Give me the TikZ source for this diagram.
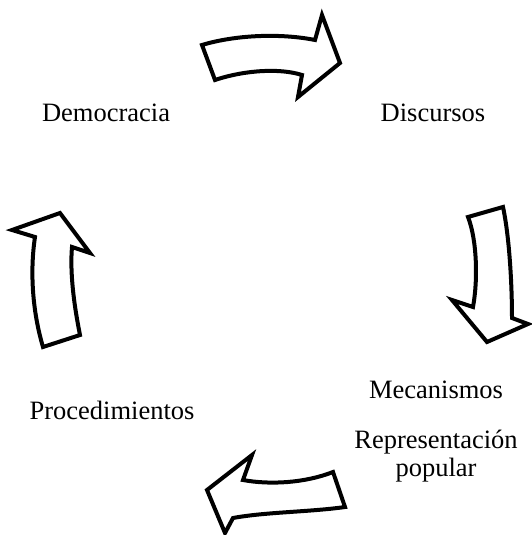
\documentclass[tikz,border=0pt]{standalone}
\usepackage{fontspec}
\setmainfont{Liberation Serif}
\begin{document}
\begin{tikzpicture}[x=1pt,y=-1pt,
  lbl/.style={anchor=base,inner sep=0pt,font=\fontsize{26.5}{28}\selectfont,text=black},
  bigarrow/.style={draw=black,line width=4pt,line join=miter,fill=white}]
\useasboundingbox (0,0) rectangle (531,535);
% top arrow (to the right)
\draw[bigarrow] (202,45) .. controls (235,35) and (280,33) .. (315,40)
  -- (322,15) -- (340,63) -- (298,97) -- (302,75)
  .. controls (280,68) and (245,70) .. (215,80) -- cycle;
% right arrow (down)
\draw[bigarrow] (468,217) -- (503,207)
  .. controls (510,240) and (512,290) .. (512,318)
  -- (528,324) -- (487,342) -- (452,300) -- (473,307)
  .. controls (478,280) and (477,240) .. cycle;
% bottom arrow (to the left)
\draw[bigarrow] (333,472) -- (345,507)
  .. controls (310,512) and (265,512) .. (233,518)
  -- (225,533) -- (207,490) -- (252,455) -- (243,480)
  .. controls (270,485) and (305,483) .. cycle;
% left arrow (up)
\draw[bigarrow] (43,347) -- (80,335)
  .. controls (73,300) and (70,270) .. (72,247)
  -- (90,253) -- (60,213) -- (12,230) -- (35,237)
  .. controls (30,270) and (32,310) .. cycle;
% labels
\node[lbl] (dem) at (106,121) {Democracia};
\node[lbl] (dis) at (433,121) {Discursos};
\node[lbl] (mec) at (436,398) {Mecanismos};
\node[lbl] (pro) at (112,419) {Procedimientos};
\node[lbl] (rep) at (436,448) {Representación};
\node[lbl] (pop) at (436,476) {popular};
\end{tikzpicture}
\end{document}
